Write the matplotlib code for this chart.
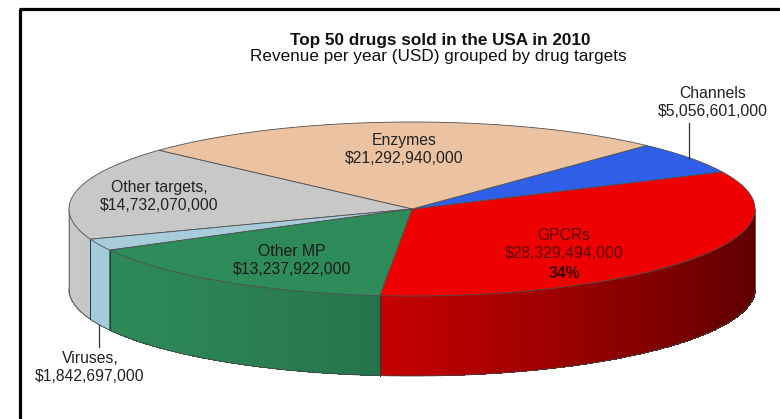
"""3D-style pie of the top 50 US drugs in 2010, revenue grouped by drug target."""

import numpy as np
import matplotlib
matplotlib.use("Agg")
import matplotlib.pyplot as plt
from matplotlib.collections import PolyCollection
from matplotlib.colors import to_rgb

plt.rcParams["font.family"] = ["Liberation Sans", "DejaVu Sans"]

# data, counter-clockwise from the front
targets = ["GPCRs", "Channels", "Enzymes", "Other targets", "Viruses", "Other MP"]
revenue = [28329494000, 5056601000, 21292940000, 14732070000, 1842697000, 13237922000]
colors = ["#EE0000", "#2F5FE6", "#EBC3A2", "#C8C8C8", "#A7CDDA", "#2E8B5A"]
label_texts = [
    "GPCRs\n$28,329,494,000",
    "Channels\n$5,056,601,000",
    "Enzymes\n$21,292,940,000",
    "Other targets,\n$14,732,070,000",
    "Viruses,\n$1,842,697,000",
    "Other MP\n$13,237,922,000",
]

# layout (pixel coordinates of the projected pie)
W, H = 780, 419
CX, CY = 412, 209
RX, RY = 343, 87
DEPTH = 80
START = -95.4  # degrees, front edge of the first slice

fig = plt.figure(figsize=(W / 100, H / 100), dpi=100)
ax = fig.add_axes([0, 0, 1, 1])
ax.set_xlim(0, W)
ax.set_ylim(H, 0)
ax.axis("off")


def rim(t_deg):
    t = np.radians(t_deg)
    return CX + RX * np.cos(t), CY - RY * np.sin(t)


def shade(x):
    u = (x - (CX - RX)) / (2 * RX)
    return 1 - 0.2 * u - 0.4 * u ** 2


values = np.array(revenue, dtype=float)
spans = values / values.sum() * 360
ends = START + np.cumsum(spans)
starts = ends - spans
mids = (starts + ends) / 2

# side walls, only the front half is visible
for s, e, col in zip(starts, ends, colors):
    base = np.array(to_rgb(col))
    for k in (-1, 0, 1):
        lo, hi = max(s + 360 * k, 180), min(e + 360 * k, 360)
        if hi <= lo:
            continue
        ts = np.linspace(lo, hi, max(int((hi - lo) * 3), 2))
        polys, fcs = [], []
        for t0, t1 in zip(ts[:-1], ts[1:]):
            x0, y0 = rim(t0)
            x1, y1 = rim(t1)
            polys.append([(x0 - 0.5, y0), (x1 + 0.5, y1), (x1 + 0.5, y1 + DEPTH),
                          (x0 - 0.5, y0 + DEPTH)])
            fcs.append(np.clip(base * shade((x0 + x1) / 2), 0, 1))
        ax.add_collection(PolyCollection(polys, facecolors=fcs, edgecolors="none",
                                         antialiaseds=False, zorder=1))
        # boundary lines on the wall
        for t in (lo, hi):
            if 180 < t < 360:
                x, y = rim(t)
                ax.plot([x, x], [y, y + DEPTH], color="#333333", lw=0.6, zorder=2)

tb = np.linspace(180, 360, 200)
xb, yb = rim(tb)
ax.plot(xb, yb + DEPTH, color="#444444", lw=0.6, zorder=2)
for t in (180, 360):
    x, y = rim(t)
    ax.plot([x, x], [y, y + DEPTH], color="#666666", lw=0.6, zorder=2)

# top face
for s, e, col in zip(starts, ends, colors):
    ts = np.linspace(s, e, max(int(e - s) * 2, 3))
    xs, ys = rim(ts)
    pts = [(CX, CY)] + list(zip(xs, ys))
    ax.add_patch(plt.Polygon(pts, closed=True, facecolor=col, edgecolor="#505050",
                             lw=0.6, zorder=3))

# labels
label_pos = [(564, 244), (713, 102), (404, 149), (159, 196), (90, 367), (292, 260)]
text_cols = ["#5A0000", "#222222", "#222222", "#222222", "#222222", "#1A1A1A"]
for txt, (x, y), tc in zip(label_texts, label_pos, text_cols):
    ax.text(x, y, txt, ha="center", va="center", fontsize=11.3, color=tc,
            linespacing=1.25, zorder=5)
ax.text(564, 273, "34%", ha="center", va="center", fontsize=11.3, color="#3A0000",
        fontweight="bold", zorder=5)

# leader lines for the thin slices
i_ch = targets.index("Channels")
x, y = rim(mids[i_ch])
ax.plot([x, x], [123, y], color="#333333", lw=0.9, zorder=4)
i_vi = targets.index("Viruses")
x, y = rim(mids[i_vi])
ax.plot([x, x], [y + DEPTH, 347], color="#333333", lw=0.9, zorder=4)

# titles
ax.text(W / 2 + 50, 40, "Top 50 drugs sold in the USA in 2010", ha="center", va="center",
        fontsize=12.3, fontweight="bold", color="#111111")
ax.text(W / 2 + 48, 57, "Revenue per year (USD) grouped by drug targets", ha="center",
        va="center", fontsize=12.3, color="#111111")

# frame, left and top only
ax.plot([19.5, 19.5], [9.5, H], color="black", lw=2.3, solid_capstyle="butt", zorder=6)
ax.plot([18.5, W], [9.5, 9.5], color="black", lw=2.3, solid_capstyle="butt", zorder=6)

fig.savefig("out.png", dpi=100)
